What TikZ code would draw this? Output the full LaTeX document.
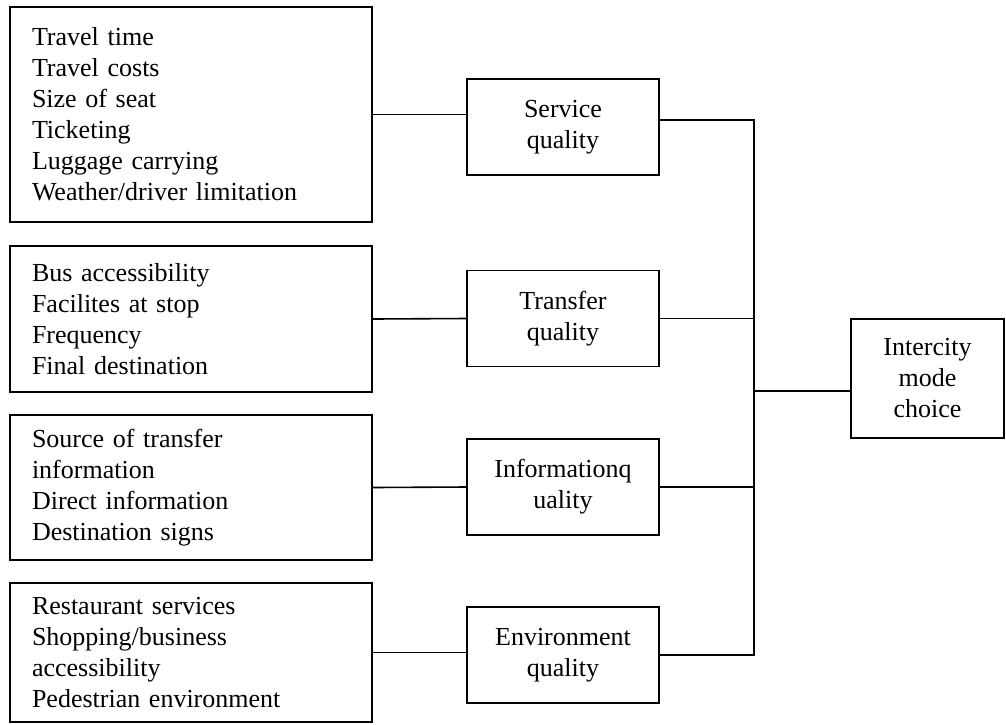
\documentclass[tikz,border=0pt]{standalone}
\usepackage{fontspec}
\setmainfont{Liberation Serif}
\begin{document}
\begin{tikzpicture}[x=1pt,y=-1pt, line width=1.6pt,
            every node/.style={font=\fontsize{26}{31}\selectfont},
            factorbox/.style={draw, align=left, text width=318pt, inner xsep=22pt, inner ysep=0pt},
            qualitybox/.style={draw, align=center, minimum width=192pt, minimum height=96pt, inner sep=0pt},
            choicebox/.style={draw, align=center, minimum width=153pt, minimum height=119pt, inner sep=0pt}]
            \useasboundingbox (0,0) rectangle (1006,724);
            \node[factorbox, minimum height=215pt] (travel) at (191,114.5) {Travel time\\Travel costs\\Size of seat\\Ticketing\\Luggage carrying\\Weather/driver limitation};
            \node[factorbox, minimum height=146pt] (stop) at (191,319) {Bus accessibility\\Facilites at stop\\Frequency\\Final destination};
            \node[factorbox, minimum height=145pt] (info) at (191,487.5) {Source of transfer\\information\\Direct information\\Destination signs};
            \node[factorbox, minimum height=139pt] (env) at (191,652.5) {Restaurant services\\Shopping/business\\accessibility\\Pedestrian environment};
            \node[qualitybox] (serviceq) at (563,127) {Service\\quality};
            \node[qualitybox] (transferq) at (563,318.5) {Transfer\\quality};
            \node[qualitybox] (infoq) at (563,487) {Informationq\\uality};
            \node[qualitybox] (envq) at (563,655) {Environment\\quality};
            \node[choicebox] (choice) at (927.5,378.5) {Intercity\\mode\\choice};
            \coordinate (bustop) at (754,120);
            \coordinate (busbot) at (754,655);
            \coordinate (join) at (754,391);
            \draw (travel.east) -- (travel.east -| serviceq.west);
            \draw (stop.east) -- (transferq.west);
            \draw (info.east) -- (infoq.west);
            \draw (env.east) -- (env.east -| envq.west);
            \draw (serviceq.east |- bustop) -- (bustop) -- (busbot) -- (envq.east);
            \draw (transferq.east) -- (transferq.east -| bustop);
            \draw (infoq.east) -- (infoq.east -| bustop);
            \draw (join) -- (join -| choice.west);
        \end{tikzpicture}
\end{document}
